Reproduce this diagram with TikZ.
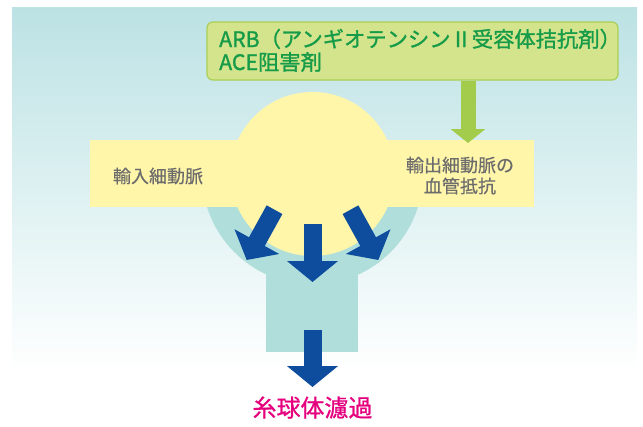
\documentclass[tikz,border=0pt]{standalone}
\usepackage{fontspec}
\setmainfont{Noto Sans CJK JP}
\newfontfamily\heavycjk[FakeBold=1.3]{Noto Sans CJK JP}
\newfontfamily\semicjk[FakeBold=0.8]{Noto Sans CJK JP}
\newfontfamily\lightcjk[FakeBold=0.4]{Noto Sans CJK JP}
\usetikzlibrary{arrows.meta}

\definecolor{bgtop}{HTML}{BCE2E4}
\definecolor{capsule}{HTML}{B0DFDB}
\definecolor{glomyellow}{HTML}{FFF6AA}
\definecolor{flowblue}{HTML}{0E4C9E}
\definecolor{drugfill}{HTML}{D4E48C}
\definecolor{drugedge}{HTML}{AACF55}
\definecolor{druggreen}{HTML}{A3CB4C}
\definecolor{drugtext}{HTML}{169B48}
\definecolor{labelgray}{HTML}{6C6C6C}
\definecolor{gfrpink}{HTML}{E5007E}

\begin{document}
\begin{tikzpicture}[x=1pt,y=-1pt,
  flowarrow/.style={draw=flowblue, line width=18pt,
    -{Triangle[width=50pt,length=21pt]}},
  drugarrow/.style={draw=druggreen, line width=15pt,
    -{Triangle[width=34pt,length=14pt]}},
  druglabel/.style={anchor=base west, inner sep=0pt, text=drugtext,
    font=\heavycjk\fontsize{21.3}{23}\selectfont},
  vessellabel/.style={inner sep=0pt, text=labelgray, align=center,
    font=\lightcjk\fontsize{18}{21}\selectfont},
]
\useasboundingbox (0,0) rectangle (643,426);

% background panel fading to white
\shade[top color=bgtop, bottom color=white] (12,7) rectangle (637,372);

% Bowman's capsule: lower half ring and outflow stem
\begin{scope}
  \clip (0,207) rectangle (643,426);
  \fill[capsule] (312.5,174) circle (110.5);
\end{scope}
\node[fill=capsule, minimum width=92pt, minimum height=100pt, inner sep=0pt]
  (stem) at (312,302) {};

% glomerulus and the afferent/efferent arterioles
\node[circle, fill=glomyellow, minimum size=164pt, inner sep=0pt]
  (glom) at (312.5,174) {};
\node[fill=glomyellow, minimum width=444pt, minimum height=67pt, inner sep=0pt]
  (vessel) at (312,173.5) {};

% drug box
\node[fill=drugfill, draw=drugedge, line width=1.2pt, rounded corners=6pt,
  minimum width=411pt, minimum height=58pt, inner sep=0pt]
  (drug) at (412.5,51) {};
\node[druglabel] (arb) at (219,47) {ARB（アンギオテンシンⅡ受容体拮抗剤）};
\node[druglabel] (ace) at (219,70) {ACE阻害剤};

% drug action on the efferent arteriole
\coordinate (dA) at (468,81);
\coordinate (dB) at (468,143);
\draw[drugarrow] (dA) -- (dB);

% vessel labels
\node[vessellabel] (afferent) at (158,176) {輸入細動脈};
\node[vessellabel] (efferent) at (460,175.5) {輸出細動脈の\\血管抵抗};

% filtration flow
\coordinate (lA) at (274.5,209.7);
\coordinate (lB) at (246.7,260);
\coordinate (cA) at (312.5,224);
\coordinate (cB) at (312.5,282);
\coordinate (rA) at (350.5,209.7);
\coordinate (rB) at (378.3,260);
\coordinate (bA) at (312.5,330);
\coordinate (bB) at (312.5,387);
\draw[flowarrow] (lA) -- (lB);
\draw[flowarrow] (cA) -- (cB);
\draw[flowarrow] (rA) -- (rB);
\draw[flowarrow] (bA) -- (bB);

\node[inner sep=0pt, text=gfrpink, font=\semicjk\fontsize{24}{28}\selectfont]
  (gfr) at (312.5,407.5) {糸球体濾過};
\end{tikzpicture}
\end{document}
